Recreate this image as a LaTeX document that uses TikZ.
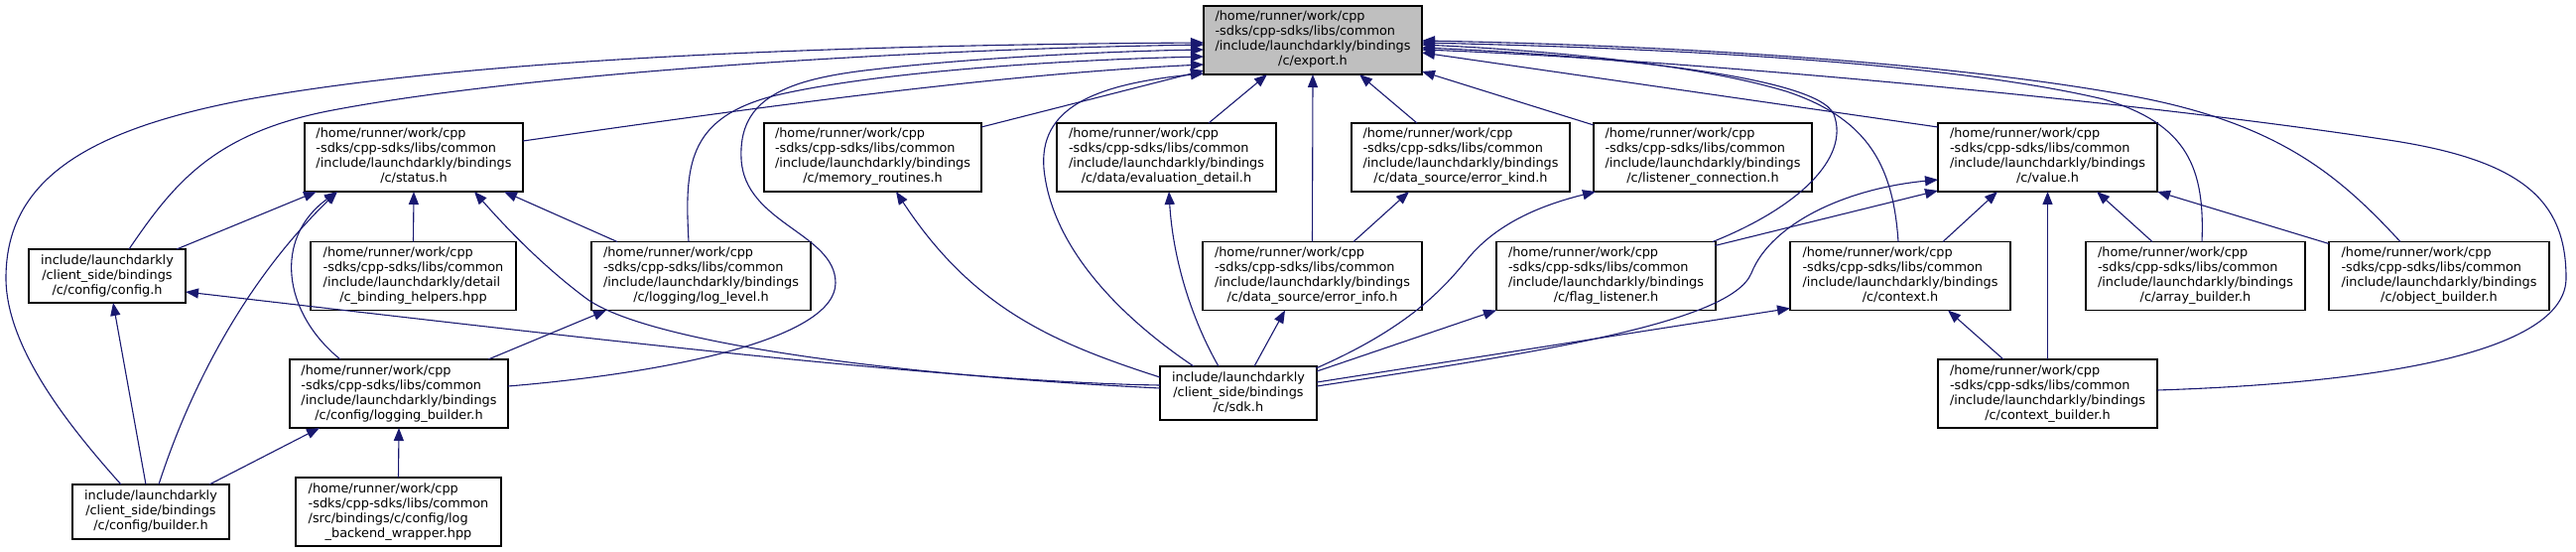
\documentclass[tikz,border=0pt]{standalone}
\usepackage{fontspec}
\setmainfont{DejaVu Sans}
\usetikzlibrary{arrows.meta,calc}
\definecolor{edgeblue}{HTML}{191970}
\definecolor{hlgray}{HTML}{BFBFBF}
\newcommand{\fourl}[4]{\begin{tabular}{@{}l@{}}#1\\#2\\#3\\\multicolumn{1}{@{}c@{}}{#4}\end{tabular}}
\newcommand{\threec}[3]{\begin{tabular}{@{}c@{}}#1\\#2\\#3\end{tabular}}
\newcommand{\incb}[1]{\fourl{/home/runner/work/cpp}{-sdks/cpp-sdks/libs/common}{/include/launchdarkly/bindings}{#1}}
\tikzset{
  file/.style={draw=black, line width=1.2pt, fill=white, inner sep=0pt, outer sep=0pt,
    font=\fontsize{12.85pt}{15pt}\selectfont},
  cur/.style={file, fill=hlgray},
  dep/.style={draw=edgeblue, line width=1.1pt, -{Triangle[length=13pt,width=10pt]}}
}
\begin{document}
\begin{tikzpicture}[x=1pt,y=-1pt]
\useasboundingbox (0,0) rectangle (2596,556);
% row 1
\node[cur, minimum width=220pt, minimum height=69pt] (export) at (1323,40.5) {\incb{/c/export.h}};
% row 2
\node[file, minimum width=220pt, minimum height=69pt] (status) at (417,158.5) {\incb{/c/status.h}};
\node[file, minimum width=219pt, minimum height=69pt] (memory) at (879.5,158.5) {\incb{/c/memory\_routines.h}};
\node[file, minimum width=221pt, minimum height=69pt] (evaluation) at (1175.5,158.5) {\incb{/c/data/evaluation\_detail.h}};
\node[file, minimum width=220pt, minimum height=69pt] (errkind) at (1472,158.5) {\incb{/c/data\_source/error\_kind.h}};
\node[file, minimum width=220pt, minimum height=69pt] (listener) at (1716,158.5) {\incb{/c/listener\_connection.h}};
\node[file, minimum width=221pt, minimum height=69pt] (value) at (2063.5,158.5) {\incb{/c/value.h}};
% row 3
\node[file, minimum width=158pt, minimum height=54pt] (config) at (108,278) {\threec{include/launchdarkly}{/client\_side/bindings}{/c/config/config.h}};
\node[file, minimum width=207pt, minimum height=69pt] (chelpers) at (416.5,278) {\fourl{/home/runner/work/cpp}{-sdks/cpp-sdks/libs/common}{/include/launchdarkly/detail}{/c\_binding\_helpers.hpp}};
\node[file, minimum width=221pt, minimum height=69pt] (loglevel) at (706.5,278) {\incb{/c/logging/log\_level.h}};
\node[file, minimum width=221pt, minimum height=69pt] (errinfo) at (1322.5,278) {\incb{/c/data\_source/error\_info.h}};
\node[file, minimum width=221pt, minimum height=69pt] (flag) at (1618.5,278) {\incb{/c/flag\_listener.h}};
\node[file, minimum width=222pt, minimum height=69pt] (context) at (1915,278) {\incb{/c/context.h}};
\node[file, minimum width=221pt, minimum height=69pt] (array) at (2212.5,278) {\incb{/c/array\_builder.h}};
\node[file, minimum width=222pt, minimum height=69pt] (object) at (2458,278) {\incb{/c/object\_builder.h}};
% row 4
\node[file, minimum width=220pt, minimum height=69pt] (logbuilder) at (402,396.5) {\incb{/c/config/logging\_builder.h}};
\node[file, minimum width=158pt, minimum height=54pt] (sdk) at (1248,396) {\threec{include/launchdarkly}{/client\_side/bindings}{/c/sdk.h}};
\node[file, minimum width=221pt, minimum height=69pt] (ctxbuilder) at (2063.5,396.5) {\incb{/c/context\_builder.h}};
% row 5
\node[file, minimum width=158pt, minimum height=55pt] (builder) at (152,515.5) {\threec{include/launchdarkly}{/client\_side/bindings}{/c/config/builder.h}};
\node[file, minimum width=207pt, minimum height=69pt] (logbackend) at (401.5,515.5) {\fourl{/home/runner/work/cpp}{-sdks/cpp-sdks/libs/common}{/src/bindings/c/config/log}{\_backend\_wrapper.hpp}};

% edges into export.h
\draw[dep] ($(builder.north west)+(49,0)$) .. controls (70,430) and (6,350) .. (6,280) .. controls (6,180) and (90,130) .. (250,100) .. controls (500,55) and (900,45) .. ($(export.north west)+(0,37)$);
\draw[dep] ($(config.north west)+(101,0)$) .. controls (175,185) and (215,135) .. (330,112) .. controls (520,75) and (900,50) .. ($(export.north west)+(0,39)$);
\draw[dep] ($(status.north west)+(220,18)$) .. controls (750,110) and (1000,75) .. ($(export.north west)+(0,59)$);
\draw[dep] ($(loglevel.north west)+(98,0)$) .. controls (690,168) and (692,120) .. (778,97) .. controls (880,72) and (1080,60) .. ($(export.north west)+(0,51)$);
\draw[dep] ($(logbuilder.north west)+(220,27)$) .. controls (680,375) and (842,340) .. (842,285) .. controls (842,235) and (750,225) .. (747,160) .. controls (744,100) and (790,80) .. (880,70) .. controls (1000,56) and (1150,51) .. ($(export.north west)+(0,44)$);
\draw[dep] ($(memory.north west)+(219,4)$) -- ($(export.north west)+(0,65)$);
\draw[dep] ($(sdk.north west)+(34,0)$) .. controls (1130,320) and (1060,250) .. (1052,170) .. controls (1047,110) and (1100,85) .. ($(export.north west)+(0,68)$);
\draw[dep] ($(evaluation.north west)+(153,0)$) -- ($(export.north west)+(64,69)$);
\draw[dep] (errinfo.north) -- (export.south);
\draw[dep] ($(errkind.north west)+(66,0)$) -- ($(export.north west)+(157,69)$);
\draw[dep] ($(listener.north west)+(0,2)$) -- ($(export.north west)+(220,66)$);
\draw[dep] ($(value.north west)+(0,4)$) -- ($(export.north west)+(220,47)$);
\draw[dep] ($(flag.north west)+(218,0)$) .. controls (1810,210) and (1865,160) .. (1848,115) .. controls (1830,75) and (1600,55) .. ($(export.north west)+(220,42)$);
\draw[dep] ($(context.north west)+(109,0)$) .. controls (1908,170) and (1885,120) .. (1800,92) .. controls (1700,62) and (1540,50) .. ($(export.north west)+(220,39)$);
\draw[dep] ($(array.north west)+(117,0)$) .. controls (2222,170) and (2205,125) .. (2120,100) .. controls (1950,60) and (1650,48) .. ($(export.north west)+(220,37)$);
\draw[dep] ($(object.north west)+(72,0)$) .. controls (2360,180) and (2300,125) .. (2150,97) .. controls (1950,60) and (1650,45) .. ($(export.north west)+(220,35)$);
\draw[dep] ($(ctxbuilder.north west)+(221,31)$) .. controls (2420,385) and (2586,350) .. (2586,280) .. controls (2586,200) and (2540,160) .. (2400,140) .. controls (2100,95) and (1650,58) .. ($(export.north west)+(220,44)$);

% edges into status.h
\draw[dep] ($(config.north west)+(149,0)$) -- ($(status.north west)+(12,69)$);
\draw[dep] ($(builder.north west)+(87,0)$) .. controls (190,395) and (245,285) .. ($(status.north west)+(33,69)$);
\draw[dep] ($(logbuilder.north west)+(51,0)$) .. controls (285,315) and (275,240) .. ($(status.north west)+(33,69)$);
\draw[dep] (chelpers.north) -- (status.south);
\draw[dep] ($(sdk.north west)+(0,22)$) .. controls (900,378) and (650,345) .. (590,300) .. controls (550,270) and (515,235) .. ($(status.north west)+(171,69)$);
\draw[dep] ($(loglevel.north west)+(26,0)$) -- ($(status.north west)+(201,69)$);

% config.h, logging_builder.h, log_level.h
\draw[dep] ($(sdk.north west)+(0,19)$) .. controls (950,385) and (500,330) .. ($(config.north west)+(158,43)$);
\draw[dep] ($(builder.north west)+(74,0)$) -- ($(config.north west)+(85,54)$);
\draw[dep] ($(builder.north west)+(138,0)$) -- ($(logbuilder.north west)+(30,69)$);
\draw[dep] (logbackend.north) -- (logbuilder.south);
\draw[dep] ($(logbuilder.north west)+(200,0)$) -- ($(loglevel.north west)+(15,69)$);

% from sdk.h
\draw[dep] ($(sdk.north west)+(0,11)$) .. controls (1060,345) and (980,310) .. ($(memory.north west)+(133,69)$);
\draw[dep] ($(sdk.north west)+(59,0)$) .. controls (1200,320) and (1182,260) .. ($(evaluation.north west)+(113,69)$);
\draw[dep] ($(sdk.north west)+(95,0)$) -- ($(errinfo.north west)+(83,69)$);
\draw[dep] ($(sdk.north west)+(157,2)$) .. controls (1420,330) and (1455,290) .. (1478,262) .. controls (1510,222) and (1560,205) .. ($(listener.north west)+(2,69)$);
\draw[dep] ($(sdk.north west)+(158,5)$) -- ($(flag.north west)+(0,69)$);
\draw[dep] ($(sdk.north west)+(158,16)$) -- ($(context.north west)+(0,67)$);
\draw[dep] ($(sdk.north west)+(158,20)$) .. controls (1550,355) and (1745,325) .. (1765,275) .. controls (1785,225) and (1860,190) .. ($(value.north west)+(0,57)$);

% into value.h and others
\draw[dep] ($(context.north west)+(154,0)$) -- ($(value.north west)+(60,69)$);
\draw[dep] ($(array.north west)+(67,0)$) -- ($(value.north west)+(160,69)$);
\draw[dep] ($(object.north west)+(0,2)$) -- (value.south east);
\draw[dep] (ctxbuilder.north) -- (value.south);
\draw[dep] ($(flag.north west)+(220,4)$) -- ($(value.north west)+(0,68)$);
\draw[dep] ($(ctxbuilder.north west)+(66,0)$) -- ($(context.north west)+(159,69)$);
\draw[dep] ($(errinfo.north west)+(152,0)$) -- ($(errkind.north west)+(58,69)$);
\end{tikzpicture}
\end{document}
